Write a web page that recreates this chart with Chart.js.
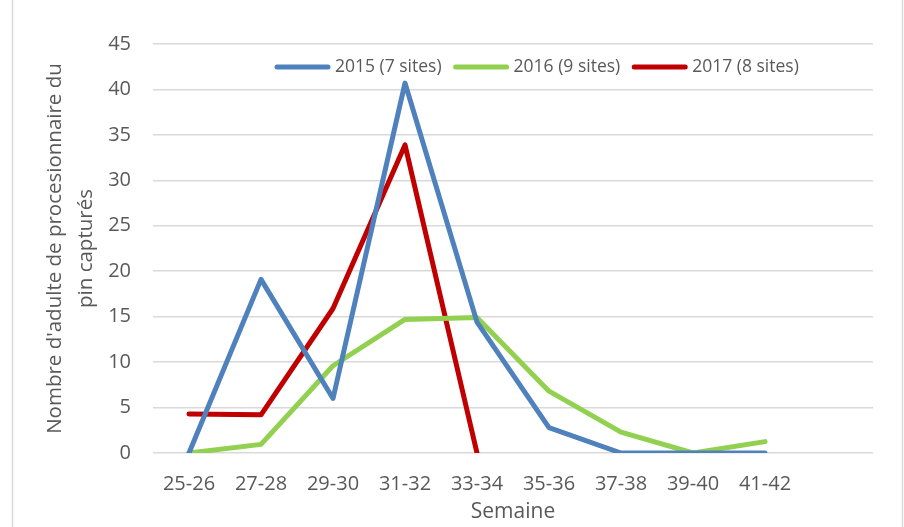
<!DOCTYPE html>
<html>
<head>
<meta charset="utf-8">
<title>Processionnaire du pin - captures</title>
<script src="https://cdn.jsdelivr.net/npm/chart.js@4.4.1/dist/chart.umd.min.js"></script>
<style>
  html, body { margin: 0; padding: 0; background: #fff; }
</style>
</head>
<body>
<canvas id="captureChart" width="904" height="527"></canvas>
<script>
// semaines (la derniere case reste vide comme dans Excel)
const weeks = ['25-26', '27-28', '29-30', '31-32', '33-34', '35-36', '37-38', '39-40', '41-42', ''];

const captures2015 = [0, 19.1, 6.0, 40.7, 14.4, 2.8, 0, 0, 0];
const captures2016 = [0, 0.95, 9.6, 14.7, 14.9, 6.8, 2.3, 0, 1.25];
const captures2017 = [4.3, 4.2, 15.9, 33.9, 0];

const seriesLabels = ['2015 (7 sites)', '2016 (9 sites)', '2017 (8 sites)'];
const seriesColors = ['#4f81bd', '#92d050', '#c00000'];

const yMin = 0, yMax = 45, yStep = 5;

const textColor = '#595959';
const gridColor = '#d9d9d9';
const fontFamily = '"Open Sans", sans-serif';

// fond blanc + bordure grise de la zone de graphique
const frame = {
    id: 'frame',
    beforeDraw(chart) {
        const ctx = chart.ctx;
        ctx.save();
        ctx.fillStyle = '#fff';
        ctx.fillRect(0, 0, chart.width, chart.height);
        ctx.strokeStyle = '#d9d9d9';
        ctx.lineWidth = 1.5;
        ctx.strokeRect(12.5, -2, 890, chart.height + 4);
        ctx.restore();
    }
};

// legende dessinee dans la zone de tracé, sous la ligne de 45
const insideLegend = {
    id: 'insideLegend',
    afterDatasetsDraw(chart) {
        const ctx = chart.ctx;
        const lineLen = 55, gapText = 5, gapItem = 12;
        let x = 275;
        const y = 67;
        ctx.save();
        ctx.font = '17.5px ' + fontFamily;
        ctx.textBaseline = 'middle';
        ctx.lineCap = 'round';
        chart.data.datasets.forEach(ds => {
            ctx.strokeStyle = ds.borderColor;
            ctx.lineWidth = 5;
            ctx.beginPath();
            ctx.moveTo(x + 2, y);
            ctx.lineTo(x + lineLen - 2, y);
            ctx.stroke();
            x += lineLen + gapText;
            ctx.fillStyle = textColor;
            ctx.fillText(ds.label, x, y);
            x += ctx.measureText(ds.label).width + gapItem;
        });
        ctx.restore();
    }
};

function makeSeries(i, values) {
    return {
        label: seriesLabels[i],
        data: values,
        borderColor: seriesColors[i],
        backgroundColor: seriesColors[i],
        borderWidth: 5,
        borderCapStyle: 'round',
        borderJoinStyle: 'round',
        pointRadius: 0,
        tension: 0,
        spanGaps: false
    };
}

new Chart(document.getElementById('captureChart').getContext('2d'), {
    type: 'line',
    data: {
        labels: weeks,
        datasets: [
            makeSeries(0, captures2015),
            makeSeries(1, captures2016),
            makeSeries(2, captures2017)
        ]
    },
    options: {
        responsive: false,
        animation: false,
        layout: { padding: { left: 14, top: 44, right: 31, bottom: 0 } },
        plugins: {
            legend: { display: false },
            tooltip: { enabled: false }
        },
        scales: {
            x: {
                offset: true,
                grid: { display: false },
                border: { display: false },
                ticks: {
                    color: textColor,
                    font: { family: fontFamily, size: 20 },
                    padding: 11,
                    maxRotation: 0,
                    autoSkip: false
                },
                title: {
                    display: true,
                    text: 'Semaine',
                    color: textColor,
                    font: { family: fontFamily, size: 21, lineHeight: 1.4 },
                    padding: 0
                },
                afterFit(scale) { scale.height = 74; }
            },
            y: {
                min: yMin,
                max: yMax,
                ticks: {
                    stepSize: yStep,
                    color: textColor,
                    font: { family: fontFamily, size: 20 },
                    padding: 22
                },
                grid: {
                    color: gridColor,
                    lineWidth: 1.5,
                    drawTicks: false
                },
                border: { display: false },
                title: {
                    display: true,
                    text: ["Nombre d'adulte de procesionnaire du", 'pin capturés'],
                    color: textColor,
                    font: { family: fontFamily, size: 20.5, lineHeight: 1.5 },
                    padding: { top: 26, bottom: 0 }
                },
                afterFit(scale) { scale.width = 139; }
            }
        }
    },
    plugins: [frame, insideLegend]
});
</script>
</body>
</html>
